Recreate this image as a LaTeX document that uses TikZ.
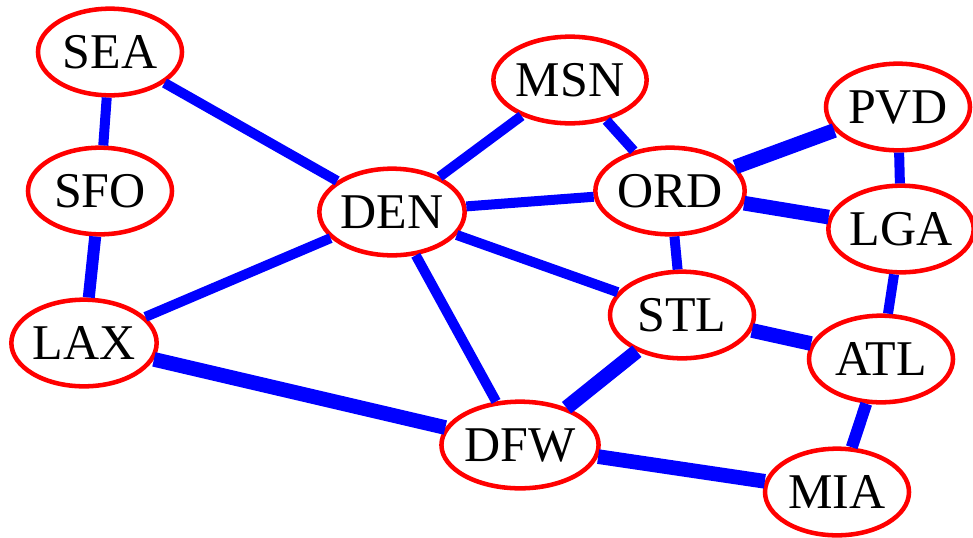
\documentclass[tikz,border=0pt]{standalone}
\usepackage{fontspec}
\setmainfont{Liberation Serif}
\usetikzlibrary{shapes.geometric}
\definecolor{edgeblue}{RGB}{0,0,255}
\definecolor{nodered}{RGB}{255,0,0}
\tikzset{
  city/.style={ellipse, draw=nodered, line width=3.4pt, fill=white,
    minimum width=108pt, minimum height=65pt, inner sep=0pt,
    font=\fontsize{37.5}{40}\selectfont},
  route/.style={draw=edgeblue, line width=7.5pt},
  busy/.style={draw=edgeblue, line width=11pt},
  mid/.style={draw=edgeblue, line width=9pt},
}
\begin{document}
\begin{tikzpicture}[x=0.75pt, y=-0.75pt]
  \useasboundingbox (0,0) rectangle (973,537);
  % airports
  \node[city] (SEA) at (110,52)  {SEA};
  \node[city] (SFO) at (100,191) {SFO};
  \node[city] (LAX) at (84,343)  {LAX};
  \node[city] (DEN) at (392,212) {DEN};
  \node[city] (MSN) at (570,80)  {MSN};
  \node[city] (ORD) at (670,191) {ORD};
  \node[city] (PVD) at (898,107) {PVD};
  \node[city] (LGA) at (901,229) {LGA};
  \node[city] (STL) at (682,315) {STL};
  \node[city] (ATL) at (881,359) {ATL};
  \node[city] (DFW) at (520,445) {DFW};
  \node[city] (MIA) at (837,492) {MIA};
  % routes
  \path[route] (SEA) -- (SFO);
  \path[route] (SEA) -- (DEN);
  \path[mid]   (SFO) -- (LAX);
  \path[route] (LAX) -- (DEN);
  \path[busy]  (LAX) -- (DFW);
  \path[route] (DEN) -- (MSN);
  \path[route] (DEN) -- (ORD);
  \path[route] (DEN) -- (STL);
  \path[route] (DEN) -- (DFW);
  \path[route] (MSN) -- (ORD);
  \path[busy]  (ORD) -- (PVD);
  \path[busy]  (ORD) -- (LGA);
  \path[route] (ORD) -- (STL);
  \path[route] (PVD) -- (LGA);
  \path[route] (LGA) -- (ATL);
  \path[busy]  (STL) -- (ATL);
  \path[busy]  (STL) -- (DFW);
  \path[busy]  (DFW) -- (MIA);
  \path[mid]   (ATL) -- (MIA);
\end{tikzpicture}
\end{document}
